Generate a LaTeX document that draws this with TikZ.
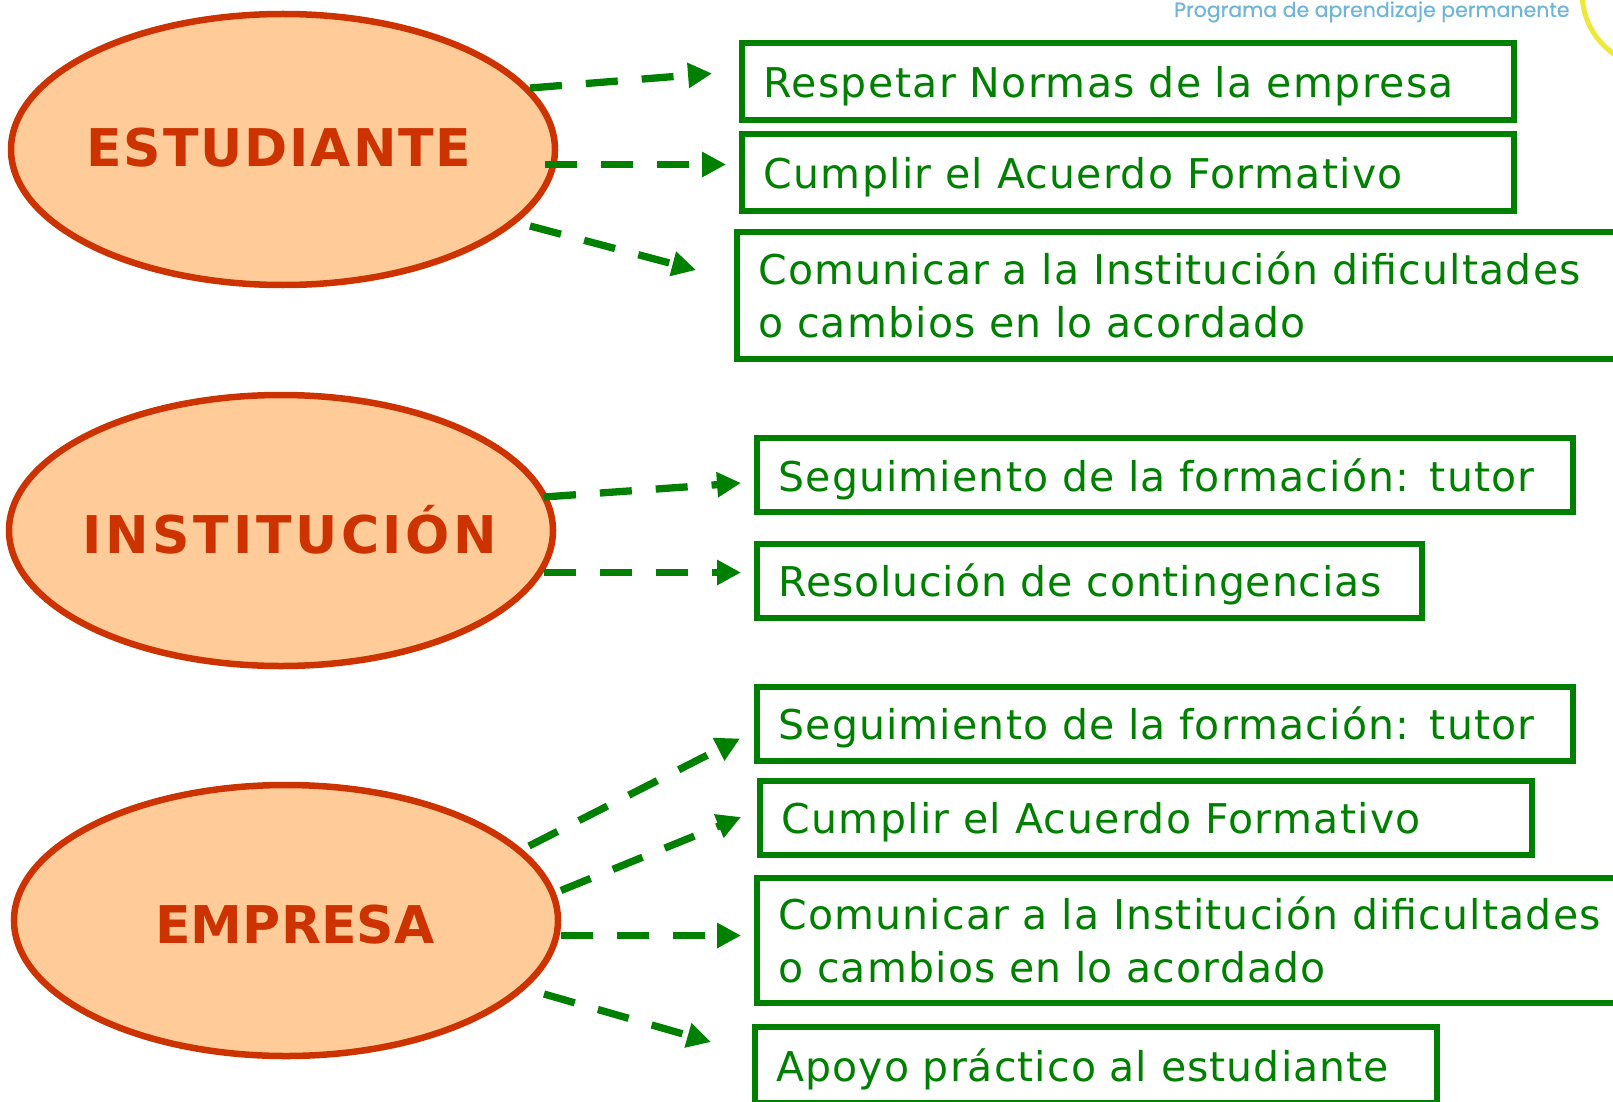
\documentclass[tikz,border=0pt]{standalone}
\usepackage{fontspec}
\setmainfont{DejaVu Sans}
\newfontfamily\logofont[FakeBold=0.5]{Poppins}
\newfontfamily\boxfont{DejaVu Sans}
\newfontfamily\ovalfont{DejaVu Sans Bold}
\newcommand\lsp[1]{\addfontfeature{LetterSpace=#1}}
\usetikzlibrary{shapes.geometric,arrows.meta}
\definecolor{boxgreen}{HTML}{008000}
\definecolor{ovalline}{HTML}{CC3300}
\definecolor{ovalfill}{HTML}{FFCC99}
\definecolor{logoblue}{HTML}{6FB5D8}
\definecolor{logoyellow}{HTML}{EDE83A}
\tikzset{
  oval/.style={ellipse,draw=ovalline,fill=ovalfill,line width=6.5pt,minimum width=544pt,minimum height=271pt,inner sep=0pt},
  ovaltext/.style={anchor=base,inner sep=0pt,text=ovalline},
  tbox/.style={rectangle,draw=boxgreen,line width=6pt,anchor=west,align=left,text=boxgreen,inner xsep=21.5pt,inner ysep=0pt,font=\boxfont\fontsize{41}{52.5}\selectfont},
  oneline/.style={text depth=0pt},
  conn/.style={draw=boxgreen,line width=7.3pt,dash pattern=on 32pt off 24pt,-{Triangle[length=24pt,width=24pt]}}
}
\begin{document}
\begin{tikzpicture}[x=1pt,y=-1pt]
\useasboundingbox (0,0) rectangle (1613,1102);
\clip (0,0) rectangle (1613,1102);
\fill[white] (0,0) rectangle (1613,1102);
% ovals
\node[oval] (est) at (283,149.5) {};
\node[oval] (ins) at (281,530.5) {};
\node[oval] (emp) at (286,920.5) {};
\node[ovaltext] (estT) at (279,167) {\ovalfont\lsp{3.6}\fontsize{52}{56}\selectfont ESTUDIANTE};
\node[ovaltext] (insT) at (290,553) {\ovalfont\lsp{7}\fontsize{52}{56}\selectfont INSTITUCIÓN};
\node[ovaltext] (empT) at (295,943.5) {\ovalfont\lsp{0.2}\fontsize{52}{56}\selectfont EMPRESA};
% boxes
\node[tbox,oneline,minimum width=772pt,text width=729pt,minimum height=77pt] (a1) at (739,81.5) {\lsp{3.45}Respetar Normas de la empresa};
\node[tbox,oneline,minimum width=772pt,text width=729pt,minimum height=76pt] (a2) at (739,172.5) {\lsp{3.25}Cumplir el Acuerdo Formativo};
\node[tbox,minimum width=900pt,text width=857pt,minimum height=127pt] (a3) at (734,295) {\lsp{2.8}Comunicar a la Institución dificultades\\o cambios en lo acordado};
\node[tbox,oneline,minimum width=816pt,text width=773pt,minimum height=74pt] (b1) at (754,475) {\lsp{2.8}Seguimiento de la formación: tutor};
\node[tbox,oneline,minimum width=665pt,text width=622pt,minimum height=74pt] (b2) at (754,580.5) {\lsp{2.15}Resolución de contingencias};
\node[tbox,oneline,minimum width=816pt,text width=773pt,minimum height=74pt] (c1) at (754,723.5) {\lsp{2.8}Seguimiento de la formación: tutor};
\node[tbox,oneline,minimum width=772pt,text width=729pt,minimum height=74pt] (c2) at (757,818) {\lsp{3.25}Cumplir el Acuerdo Formativo};
\node[tbox,minimum width=900pt,text width=857pt,minimum height=125pt] (c3) at (754,940) {\lsp{2.8}Comunicar a la Institución dificultades\\o cambios en lo acordado};
\node[tbox,oneline,minimum width=682pt,text width=639pt,minimum height=76pt] (c4) at (752,1065) {\lsp{2.6}Apoyo práctico al estudiante};
% connectors
\draw[conn] ([shift={(247,-61.5)}]est.center) -- ([shift={(-27,-8)}]a1.west);
\draw[conn] ([shift={(262,15)}]est.center) -- ([shift={(-13,-8)}]a2.west);
\draw[conn] ([shift={(247,76.5)}]est.center) -- ([shift={(-38,-25)}]a3.west);
\draw[conn] ([shift={(263,-33.5)}]ins.center) -- ([shift={(-13,8)}]b1.west);
\draw[conn] ([shift={(263,42)}]ins.center) -- ([shift={(-13,-8)}]b2.west);
\draw[conn] ([shift={(243,-74.5)}]emp.center) -- ([shift={(-14,15)}]c1.west);
\draw[conn] ([shift={(275,-30)}]emp.center) -- ([shift={(-16,-1)}]c2.west);
\draw[conn] ([shift={(275,15)}]emp.center) -- ([shift={(-13,-4.5)}]c3.west);
\draw[conn] ([shift={(258,73.5)}]emp.center) -- ([shift={(-41,-23)}]c4.west);
% logo fragment
\node[anchor=base west,inner sep=0pt,text=logoblue,font=\logofont\fontsize{20.5}{24}\selectfont] (logo) at (1174,17) {Programa de aprendizaje permanente};
\draw[logoyellow,line width=5pt] (1582,-5) .. controls (1583,20) and (1595,43) .. (1620,58);
\end{tikzpicture}
\end{document}
